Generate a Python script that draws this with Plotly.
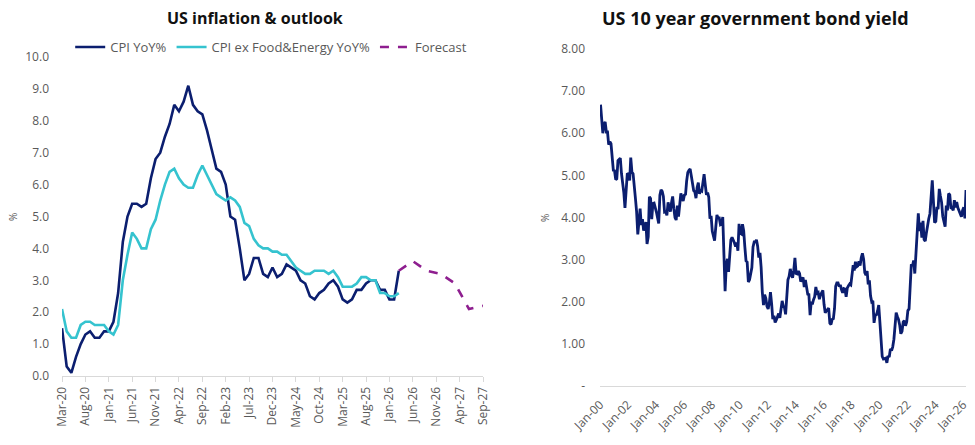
import pandas as pd
import plotly.graph_objects as go

# ---------------- Left chart data ----------------
months = [d.strftime("%b-%y") for d in pd.date_range("2020-03-01", "2027-09-01", freq="MS")]

cpi_yoy = [
    1.5, 0.3, 0.1, 0.6, 1.0, 1.3, 1.4, 1.2, 1.2, 1.4,
    1.4, 1.7, 2.6, 4.2, 5.0, 5.4, 5.4, 5.3, 5.4, 6.2, 6.8, 7.0,
    7.5, 7.9, 8.5, 8.3, 8.6, 9.1, 8.5, 8.3, 8.2, 7.7, 7.1, 6.5,
    6.4, 6.0, 5.0, 4.9, 4.0, 3.0, 3.2, 3.7, 3.7, 3.2, 3.1, 3.4,
    3.1, 3.2, 3.5, 3.4, 3.3, 3.0, 2.9, 2.5, 2.4, 2.6, 2.7, 2.9,
    3.0, 2.8, 2.4, 2.3, 2.4, 2.7, 2.7, 2.9, 3.0, 3.0, 2.7, 2.7,
    2.4, 2.4, 3.3,
]
core_yoy = [
    2.1, 1.4, 1.2, 1.2, 1.6, 1.7, 1.7, 1.6, 1.6, 1.6,
    1.4, 1.3, 1.6, 3.0, 3.8, 4.5, 4.3, 4.0, 4.0, 4.6, 4.9, 5.5,
    6.0, 6.4, 6.5, 6.2, 6.0, 5.9, 5.9, 6.3, 6.6, 6.3, 6.0, 5.7,
    5.6, 5.5, 5.6, 5.5, 5.3, 4.8, 4.7, 4.3, 4.1, 4.0, 4.0, 3.9,
    3.9, 3.8, 3.8, 3.6, 3.4, 3.3, 3.2, 3.2, 3.3, 3.3, 3.3, 3.2,
    3.3, 3.1, 2.8, 2.8, 2.8, 2.9, 3.1, 3.1, 3.0, 3.0, 2.6, 2.6,
    2.5, 2.5, 2.6,
]
forecast_months = ["Mar-26", "Jun-26", "Sep-26", "Dec-26", "Mar-27", "Jun-27", "Sep-27"]
forecast_vals = [3.3, 3.6, 3.3, 3.2, 2.9, 2.1, 2.2]

left_ticks = months[::5]
left_yticks = [0, 1, 2, 3, 4, 5, 6, 7, 8, 9, 10]

# ---------------- Right chart data (monthly, 10y yield %) ----------------
bond_yield = [
    6.68, 6.41, 6.00, 6.21, 6.27, 6.03, 6.03, 5.73, 5.80, 5.75, 5.47, 5.12,  # 2000
    5.11, 4.90, 4.92, 5.35, 5.38, 5.41, 5.05, 4.83, 4.59, 4.23, 4.75, 5.05,  # 2001
    5.03, 4.88, 5.42, 5.08, 5.04, 4.80, 4.46, 4.14, 3.60, 3.89, 4.21, 3.82,  # 2002
    3.96, 3.69, 3.83, 3.89, 3.37, 3.54, 4.49, 4.45, 3.96, 4.33, 4.34, 4.25,  # 2003
    4.13, 3.99, 3.86, 4.53, 4.66, 4.62, 4.50, 4.13, 4.14, 4.05, 4.36, 4.24,  # 2004
    4.14, 4.36, 4.50, 4.21, 4.00, 3.94, 4.28, 4.02, 4.34, 4.57, 4.49, 4.39,  # 2005
    4.53, 4.55, 4.86, 5.07, 5.12, 5.15, 4.99, 4.74, 4.64, 4.61, 4.46, 4.71,  # 2006
    4.83, 4.56, 4.65, 4.63, 4.90, 5.03, 4.78, 4.54, 4.59, 4.48, 3.97, 4.04,  # 2007
    3.67, 3.53, 3.45, 3.77, 4.06, 3.99, 3.99, 3.83, 3.85, 4.01, 2.93, 2.25,  # 2008
    2.87, 3.02, 2.71, 3.16, 3.47, 3.53, 3.48, 3.40, 3.31, 3.41, 3.21, 3.85,  # 2009
    3.63, 3.61, 3.84, 3.69, 3.31, 2.97, 2.94, 2.47, 2.52, 2.63, 2.81, 3.30,  # 2010
    3.42, 3.42, 3.47, 3.32, 3.05, 3.16, 2.82, 2.23, 1.92, 2.17, 2.08, 1.89,  # 2011
    1.83, 1.98, 2.23, 1.95, 1.59, 1.67, 1.51, 1.57, 1.65, 1.72, 1.62, 1.78,  # 2012
    2.02, 1.89, 1.87, 1.70, 2.16, 2.52, 2.60, 2.78, 2.64, 2.57, 2.75, 3.04,  # 2013
    2.67, 2.66, 2.73, 2.67, 2.48, 2.53, 2.58, 2.35, 2.52, 2.35, 2.18, 2.17,  # 2014
    1.68, 2.00, 1.94, 2.05, 2.12, 2.35, 2.20, 2.22, 2.06, 2.16, 2.21, 2.27,  # 2015
    1.94, 1.74, 1.78, 1.83, 1.85, 1.49, 1.46, 1.58, 1.60, 1.84, 2.37, 2.45,  # 2016
    2.45, 2.36, 2.40, 2.29, 2.21, 2.31, 2.30, 2.12, 2.33, 2.38, 2.42, 2.40,  # 2017
    2.72, 2.87, 2.74, 2.95, 2.83, 2.85, 2.96, 2.86, 3.05, 3.15, 3.01, 2.69,  # 2018
    2.63, 2.73, 2.41, 2.51, 2.14, 2.00, 2.02, 1.50, 1.68, 1.69, 1.78, 1.92,  # 2019
    1.51, 1.13, 0.70, 0.64, 0.65, 0.66, 0.55, 0.72, 0.69, 0.88, 0.84, 0.93,  # 2020
    1.11, 1.44, 1.74, 1.65, 1.58, 1.45, 1.24, 1.30, 1.52, 1.55, 1.43, 1.52,  # 2021
    1.79, 1.83, 2.32, 2.89, 2.85, 2.98, 2.67, 3.19, 3.83, 4.10, 3.68, 3.88,  # 2022
    3.52, 3.92, 3.48, 3.44, 3.64, 3.84, 3.97, 4.09, 4.59, 4.88, 4.37, 3.88,  # 2023
    3.91, 4.25, 4.20, 4.68, 4.51, 4.36, 4.03, 3.91, 3.78, 4.28, 4.17, 4.57,  # 2024
    4.54, 4.21, 4.23, 4.17, 4.41, 4.24, 4.37, 4.23, 4.15, 4.08, 4.02, 4.17,  # 2025
    4.24, 3.98, 4.65,                                                        # 2026
]
bond_dates = pd.date_range("2000-01-01", periods=len(bond_yield), freq="MS") + pd.Timedelta(days=14)
right_yticks = [0, 1, 2, 3, 4, 5, 6, 7, 8]
right_yticktext = ["-", "1.00", "2.00", "3.00", "4.00", "5.00", "6.00", "7.00", "8.00"]
right_xticks = [f"{y}-01-01" for y in range(2000, 2027, 2)]

# ---------------- Figure ----------------
NAVY = "#0B1E6F"
CYAN = "#35C3CF"
PURPLE = "#8E1E8F"
GREY = "#595959"
FONT = "Open Sans"

fig = go.Figure()

fig.add_trace(go.Scatter(x=months[:len(cpi_yoy)], y=cpi_yoy, mode="lines", name="CPI YoY%",
                         line=dict(color=NAVY, width=2.6), xaxis="x", yaxis="y"))
fig.add_trace(go.Scatter(x=months[:len(core_yoy)], y=core_yoy, mode="lines", name="CPI ex Food&Energy YoY%",
                         line=dict(color=CYAN, width=2.6), xaxis="x", yaxis="y"))
fig.add_trace(go.Scatter(x=forecast_months, y=forecast_vals, mode="lines", name="Forecast",
                         line=dict(color=PURPLE, width=2.6, dash="dash"), xaxis="x", yaxis="y"))

fig.add_trace(go.Scatter(x=bond_dates, y=bond_yield, mode="lines", name="US 10y",
                         line=dict(color=NAVY, width=2.8), showlegend=False, xaxis="x2", yaxis="y2"))

fig.update_layout(
    width=975, height=445,
    margin=dict(l=0, r=0, t=0, b=0, autoexpand=False),
    paper_bgcolor="white", plot_bgcolor="white",
    font=dict(family=FONT, color=GREY, size=12),
    showlegend=True,
    legend=dict(orientation="h", x=0.072, y=(445 - 47) / 445, xanchor="left", yanchor="middle",
                font=dict(size=13, color=GREY), itemwidth=30, bgcolor="rgba(0,0,0,0)",
                traceorder="normal"),
    xaxis=dict(
        domain=[62 / 975, 483 / 975], type="category",
        categoryorder="array", categoryarray=months,
        range=[0, len(months) - 1],
        tickmode="array", tickvals=left_ticks, ticktext=left_ticks,
        tickangle=-90, showgrid=False, showline=True, linecolor="#D9D9D9", linewidth=1,
        ticks="outside", ticklen=5, tickcolor="#D9D9D9",
        tickfont=dict(size=12, color=GREY), anchor="y", automargin=False,
    ),
    yaxis=dict(
        domain=[(445 - 376) / 445, (445 - 57) / 445], range=[0, 10],
        tickmode="array", tickvals=left_yticks, tickformat=".1f",
        showgrid=False, zeroline=False, showline=False,
        tickfont=dict(size=12, color=GREY), ticklabelstandoff=12, anchor="x", automargin=False,
    ),
    xaxis2=dict(
        domain=[600 / 975, 966 / 975], type="date",
        range=["2000-01-01", bond_dates[-1]],
        tickmode="array", tickvals=right_xticks, tickformat="%b-%y",
        tickangle=-45, showgrid=False, showline=True, linecolor="#D9D9D9", linewidth=1,
        ticks="", tickfont=dict(size=12, color=GREY), ticklabelstandoff=6, anchor="y2",
        automargin=False,
    ),
    yaxis2=dict(
        domain=[(445 - 386) / 445, (445 - 49) / 445], range=[0, 8],
        tickmode="array", tickvals=right_yticks, ticktext=right_yticktext,
        showgrid=False, zeroline=False, showline=False,
        tickfont=dict(size=12, color=GREY), ticklabelstandoff=14, anchor="x2", automargin=False,
    ),
    annotations=[
        dict(text="<b>US inflation & outlook</b>", x=255 / 975, y=(445 - 18) / 445,
             xref="paper", yref="paper", showarrow=False, xanchor="center", yanchor="middle",
             font=dict(size=16, color="#111111", family=FONT)),
        dict(text="<b>US 10 year government bond yield</b>", x=755 / 975, y=(445 - 18) / 445,
             xref="paper", yref="paper", showarrow=False, xanchor="center", yanchor="middle",
             font=dict(size=18, color="#111111", family=FONT)),
        dict(text="%", x=13 / 975, y=(445 - 217) / 445, xref="paper", yref="paper",
             showarrow=False, textangle=-90, xanchor="center", yanchor="middle",
             font=dict(size=10, color=GREY)),
        dict(text="%", x=545 / 975, y=(445 - 218) / 445, xref="paper", yref="paper",
             showarrow=False, textangle=-90, xanchor="center", yanchor="middle",
             font=dict(size=10, color=GREY)),
    ],
)

fig.write_html("out.html")
